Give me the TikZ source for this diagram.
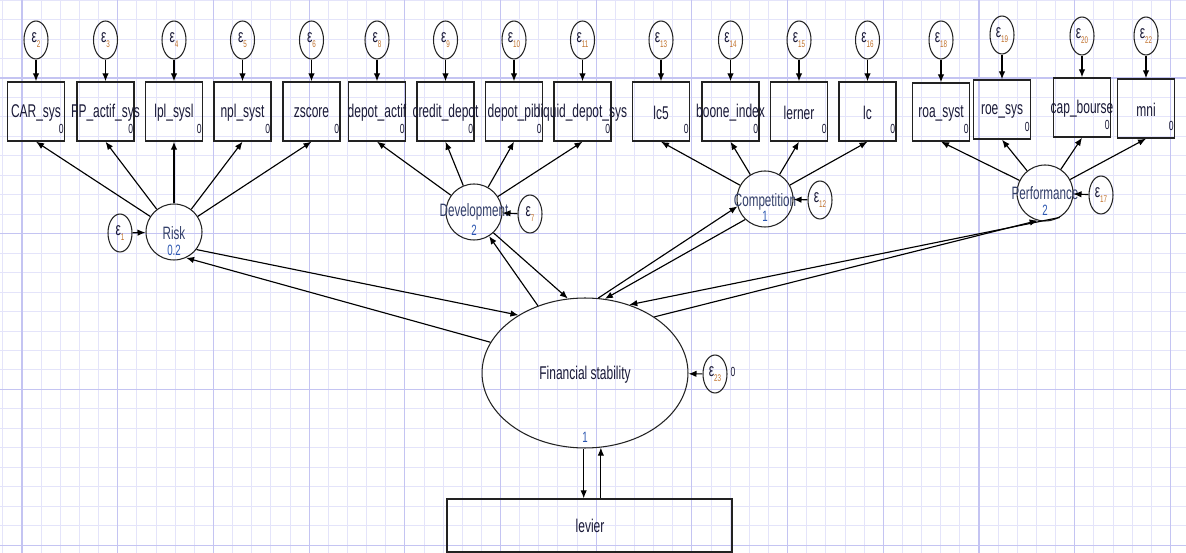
\documentclass[tikz,border=0pt]{standalone}
\usepackage{fontspec}
\setmainfont{Liberation Sans}
\newfontfamily\narrowsans[FakeStretch=0.65]{Liberation Sans}
\usetikzlibrary{shapes.geometric,arrows.meta,calc}

\definecolor{gridminor}{HTML}{E4E4FA}
\definecolor{gridmajor}{HTML}{C4C4F2}
\definecolor{inkline}{HTML}{222222}
\definecolor{labink}{HTML}{1A1A38}
\definecolor{latink}{HTML}{34406A}
\definecolor{numblue}{HTML}{2B56B0}
\definecolor{subink}{HTML}{C0702A}

\tikzset{
  obsbox/.style={draw=inkline, line width=0.8pt, rectangle, inner sep=0pt, minimum width=1.14cm},
  latc/.style={draw=inkline, line width=0.6pt, circle, inner sep=0pt, minimum size=1.12cm},
  errc/.style={draw=inkline, line width=0.6pt, ellipse, inner sep=0pt, minimum width=0.48cm, minimum height=0.76cm},
  arr/.style={draw=black, line width=0.65pt, -{Latex[length=0.16cm,width=0.13cm]}},
  lab/.style={font=\narrowsans\fontsize{10.5}{11}\selectfont, text=labink, inner sep=0pt},
  zero/.style={font=\narrowsans\fontsize{7.5}{8}\selectfont, text=labink, inner sep=0pt},
  latlab/.style={font=\narrowsans\fontsize{10.2}{11}\selectfont, text=latink, inner sep=0pt},
  numlab/.style={font=\narrowsans\fontsize{8.5}{9}\selectfont, text=numblue, inner sep=0pt},
}

% error term label: epsilon with a small index
\newcommand\epsl[1]{{\narrowsans\fontsize{10.5}{10}\selectfont\color{labink}ε}\raisebox{-0.5ex}{\narrowsans\fontsize{5.5}{5}\selectfont\color{subink}#1}}

% observed variable: name, x, top, bottom, label, error index, error y
\newcommand\indic[7]{%
  \node[obsbox, minimum height={(#4-#3)*0.02cm}] (#1) at (#2,{(#3+#4)/2}) {};
  \node[lab] at ([yshift=-0.03cm]#1.center) {#5};
  \node[zero] at ([xshift=-0.08cm,yshift=0.26cm]#1.south east) {0};
  \node[errc] (e#1) at (#2,#7) {\epsl{#6}};
  \draw[arr] (e#1) -- (#1);
}

\begin{document}
\begin{tikzpicture}[x=0.02cm, y=-0.02cm]
\useasboundingbox (0,0) rectangle (1186,553);
\fill[white] (0,0) rectangle (1186,553);

% background grid
\foreach \k in {-1,...,61}
  \draw[gridminor, line width=0.5pt] ({22+19.14*\k},0) -- ({22+19.14*\k},553);
\foreach \k in {-4,...,25}
  \draw[gridminor, line width=0.5pt] (0,{78+19.46*\k}) -- (1186,{78+19.46*\k});
\foreach \k in {0,...,12}
  \draw[gridmajor, line width=0.6pt] ({22+95.7*\k},0) -- ({22+95.7*\k},553);
\foreach \k in {0,...,3}
  \draw[gridmajor, line width=0.6pt] (0,{78+155.68*\k}) -- (1186,{78+155.68*\k});

% observed indicators
\indic{car}{36}{82}{141}{CAR\_sys}{2}{40}
\indic{fp}{105.5}{82}{141}{FP\_actif\_sys}{3}{40}
\indic{lpl}{174}{82}{141}{lpl\_sysl}{4}{40}
\indic{npl}{242.5}{82}{141}{npl\_syst}{5}{40}
\indic{zs}{311.5}{82}{141}{zscore}{6}{40}
\indic{dact}{377}{82}{141}{depot\_actif}{8}{40}
\indic{cred}{445.5}{82}{141}{credit\_depot}{9}{40}
\indic{dpib}{514}{82}{141}{depot\_pib}{10}{40}
\indic{liq}{582.5}{82}{141}{liquid\_depot\_sys}{11}{40}
\indic{lcf}{661}{82}{141}{lc5}{13}{40}
\indic{boone}{730.5}{82}{141}{boone\_index}{14}{40}
\indic{lerner}{799}{82}{141}{lerner}{15}{40}
\indic{lc}{867.5}{82}{141}{lc}{16}{40}
\indic{roa}{941}{83}{141}{roa\_syst}{18}{40}
\indic{roe}{1002}{80}{139}{roe\_sys}{19}{35}
\indic{cap}{1082}{78}{137}{cap\_bourse}{20}{36}
\indic{mni}{1146}{79}{138}{mni}{22}{36}

% latent variables
\node[latc] (risk) at (174,232) {};
\node[latlab] at (174,233) {Risk};
\node[numlab] at (174,250) {0.2};
\node[errc] (e1) at (120,233) {\epsl{1}};
\draw[arr] (e1) -- (risk);

\node[latc] (dev) at (474,212) {};
\node[latlab] at (474,212) {Development};
\node[numlab] at (474,230) {2};
\node[errc] (e7) at (530,214) {\epsl{7}};
\draw[arr] (e7) -- (dev);

\node[latc] (comp) at (765,199) {};
\node[latlab] at (765,202) {Competition};
\node[numlab] at (765,216) {1};
\node[errc] (e12) at (820,200) {\epsl{12}};
\draw[arr] (e12) -- (comp);

\node[latc] (perf) at (1045,193) {};
\node[latlab] at (1045,193) {Performance};
\node[numlab] at (1045,210) {2};
\node[errc] (e17) at (1101,195) {\epsl{17}};
\draw[arr] (e17) -- (perf);

\node[draw=inkline, line width=0.6pt, ellipse, inner sep=0pt, minimum width=4.12cm, minimum height=3cm] (fs) at (585,373) {};
\node[lab] at (585,375) {Financial stability};
\node[numlab] at (585,437) {1};
\node[errc] (e23) at (715,374) {\epsl{23}};
\node[zero] at (733,372) {0};
\draw[arr] (e23) -- (fs);

\node[obsbox, minimum width=5.7cm, minimum height=1.06cm] (levier) at (589.5,525.5) {};
\node[lab] at (590,526) {levier};

% measurement paths
\foreach \t in {car,fp,lpl,npl,zs} \draw[arr] (risk) -- (\t.south);
\foreach \t in {dact,cred,dpib,liq} \draw[arr] (dev) -- (\t.south);
\foreach \t in {lcf,boone,lerner,lc} \draw[arr] (comp) -- (\t.south);
\foreach \t in {roa,roe,cap,mni} \draw[arr] (perf) -- (\t.south);

% structural paths
\draw[arr] (risk.-38) -- (fs.139.5);
\draw[arr] (fs.162) -- (risk.-65);
\draw[arr] (dev.-47.6) -- (fs.103);
\draw[arr] (fs.125) -- (dev.-58);
\draw[arr] (fs.80.7) -- (comp.195);
\draw[arr] (comp.226) -- (fs.75);
\draw[arr] (fs.39.9) -- (perf.255);
\draw[arr] (perf.-59) -- (fs.57.7);

\draw[arr] (fs.-91.5) -- (fs.-91.5 |- levier.north);
\draw[arr] (levier.north -| fs.-78.5) -- (fs.-78.5);
\end{tikzpicture}
\end{document}
